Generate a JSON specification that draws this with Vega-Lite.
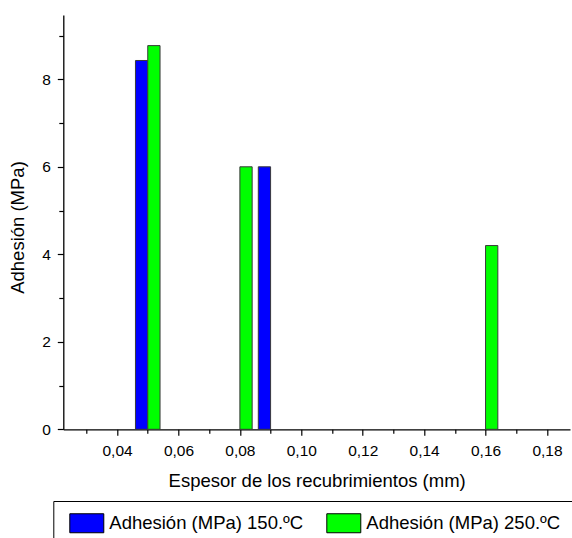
{
  "$schema": "https://vega.github.io/schema/vega-lite/v6.json",
  "autosize": {"type": "none"},
  "padding": {"left": 63.3, "top": 15, "right": 2, "bottom": 108.7},
  "width": 506.7,
  "height": 414.3,
  "background": "white",
  "config": {
    "view": {"stroke": null},
    "font": "Liberation Sans",
    "axis": {"grid": false, "labelFont": "Liberation Sans", "titleFont": "Liberation Sans", "labelColor": "black", "titleColor": "black", "domainColor": "black", "tickColor": "black", "titleFontWeight": "normal"}
  },
  "data": {
    "values": [
      {"serie": "Adhesión (MPa) 150.ºC", "desde": 0.046, "hasta": 0.05, "adhesion": 8.43},
      {"serie": "Adhesión (MPa) 150.ºC", "desde": 0.086, "hasta": 0.09, "adhesion": 6.0},
      {"serie": "Adhesión (MPa) 250.ºC", "desde": 0.05, "hasta": 0.054, "adhesion": 8.77},
      {"serie": "Adhesión (MPa) 250.ºC", "desde": 0.08, "hasta": 0.084, "adhesion": 6.0},
      {"serie": "Adhesión (MPa) 250.ºC", "desde": 0.16, "hasta": 0.164, "adhesion": 4.2}
    ]
  },
  "mark": {"type": "bar", "stroke": "#3a3a3a", "strokeWidth": 1},
  "encoding": {
    "x": {
      "field": "desde", "type": "quantitative",
      "scale": {"domain": [0.0225, 0.1875], "nice": false, "zero": false},
      "axis": {
        "values": [0.03, 0.04, 0.05, 0.06, 0.07, 0.08, 0.09, 0.10, 0.11, 0.12, 0.13, 0.14, 0.15, 0.16, 0.17, 0.18],
        "labelExpr": "round(datum.value * 100) % 2 == 0 ? replace(format(datum.value, '.2f'), '.', ',') : ''",
        "tickSize": {"condition": {"test": "round(datum.value * 100) % 2 == 0", "value": 6}, "value": 4},
        "tickWidth": 1.2,
        "domainWidth": 1.3,
        "labelFontSize": 15.5,
        "labelPadding": 8,
        "labelOverlap": false,
        "labelFlush": false,
        "title": "Espesor de los recubrimientos (mm)",
        "titleFontSize": 18.5,
        "titleBaseline": "alphabetic",
        "titleY": 57
      }
    },
    "x2": {"field": "hasta"},
    "y": {
      "field": "adhesion", "type": "quantitative",
      "scale": {"domain": [0, 9.47], "nice": false},
      "axis": {
        "values": [0, 1, 2, 3, 4, 5, 6, 7, 8, 9],
        "labelExpr": "datum.value % 2 == 0 ? datum.label : ''",
        "tickSize": {"condition": {"test": "datum.value % 2 == 0", "value": 6}, "value": 4.5},
        "tickWidth": 1.2,
        "domainWidth": 1.3,
        "labelFontSize": 15.5,
        "labelPadding": 7,
        "labelOverlap": false,
        "title": "Adhesión (MPa)",
        "titleFontSize": 18.5,
        "titleBaseline": "alphabetic",
        "titleAlign": "center",
        "titleX": -39.5,
        "titleY": 212
      }
    },
    "y2": {"datum": 0},
    "fill": {
      "field": "serie", "type": "nominal",
      "scale": {"domain": ["Adhesión (MPa) 150.ºC", "Adhesión (MPa) 250.ºC"], "range": ["#0000ff", "#00ff00"]},
      "legend": {
        "title": null,
        "orient": "none",
        "legendX": -10,
        "legendY": 486,
        "direction": "horizontal",
        "columns": 2,
        "columnPadding": 19,
        "padding": 12,
        "fillColor": "white",
        "strokeColor": "black",
        "symbolType": "M-1.789,-1H1.789V1H-1.789Z",
        "symbolSize": 361,
        "symbolStrokeColor": "black",
        "symbolStrokeWidth": 1,
        "symbolOpacity": 1,
        "symbolOffset": 11.5,
        "labelOffset": 12.5,
        "labelFont": "Liberation Sans",
        "labelFontSize": 18.5,
        "labelColor": "black",
        "labelLimit": 400
      }
    }
  }
}
